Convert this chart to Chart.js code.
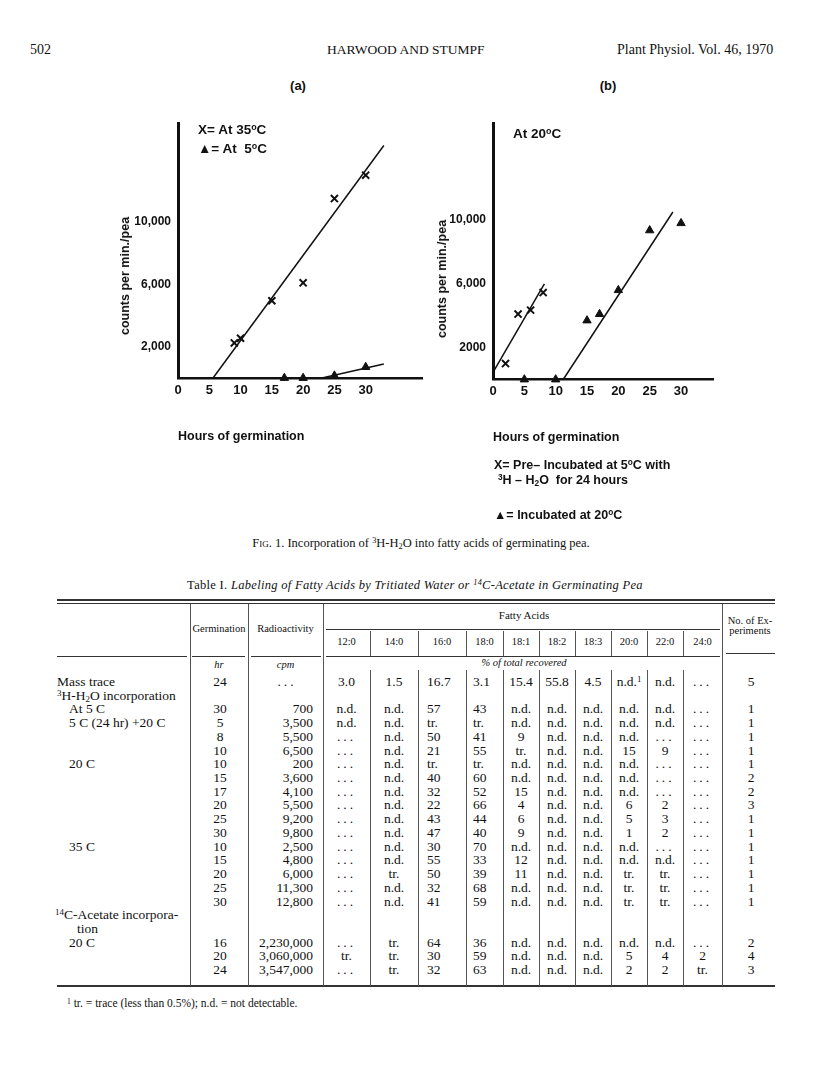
<!DOCTYPE html>
<html><head><meta charset="utf-8">
<script src="https://cdn.jsdelivr.net/npm/chart.js@4.4.0/dist/chart.umd.min.js"></script>
<style>
html,body{margin:0;padding:0;background:#fff;}
body{width:816px;height:1074px;position:relative;overflow:hidden;font-family:"Liberation Serif","Times New Roman",serif;color:#111;}
.abs{position:absolute;white-space:nowrap;}
.sans{font-family:"Liberation Sans",Arial,sans-serif;font-weight:bold;}
canvas{position:absolute;}
sup{font-size:66%;vertical-align:0.45em;line-height:0;}
sub{font-size:66%;vertical-align:-0.25em;line-height:0;}
.ytitle{transform:translate(-50%,-50%) rotate(-90deg);font-size:12.5px;}
.vl{position:absolute;width:1px;background:#555;}
.hl{position:absolute;background:#333;}
.cell{position:absolute;white-space:nowrap;line-height:14px;height:14px;font-size:13.5px;}
.hcell{position:absolute;white-space:nowrap;line-height:12px;height:12px;font-size:10.5px;text-align:center;}
</style></head><body>

<div class="abs" style="left:30px;top:42px;font-size:14px;">502</div>
<div class="abs" style="left:327px;top:42px;font-size:13.5px;">HARWOOD AND STUMPF</div>
<div class="abs" style="left:617px;top:42px;font-size:14px;">Plant Physiol. Vol. 46, 1970</div>

<div class="abs sans" style="left:278px;width:40px;text-align:center;top:78px;font-size:13px;">(a)</div>
<div class="abs sans" style="left:588px;width:40px;text-align:center;top:78px;font-size:13px;">(b)</div>

<canvas id="chartA" width="315" height="360" style="left:110px;top:100px;"></canvas>
<canvas id="chartB" width="305" height="360" style="left:425px;top:100px;"></canvas>

<div class="abs sans" style="left:198px;top:122px;font-size:13.5px;">X= At 35<sup>o</sup>C</div>
<div class="abs sans" style="left:198px;top:141px;font-size:13.5px;">▲= At&nbsp; 5<sup>o</sup>C</div>
<div class="abs sans" style="left:513px;top:126px;font-size:13.5px;">At 20<sup>o</sup>C</div>

<div class="abs sans ytitle" style="left:125px;top:276px;">counts per min./pea</div>
<div class="abs sans ytitle" style="left:442px;top:279px;">counts per min./pea</div>

<div class="abs sans" style="left:494px;top:458px;font-size:12.5px;">X= Pre– Incubated at 5<sup>o</sup>C with</div>
<div class="abs sans" style="left:498px;top:473px;font-size:12.5px;"><sup>3</sup>H – H<sub>2</sub>O&nbsp; for 24 hours</div>
<div class="abs sans" style="left:494px;top:508px;font-size:12.5px;">▲= Incubated at 20<sup>o</sup>C</div>

<div class="abs" style="left:0;width:842px;text-align:center;top:536px;font-size:12.5px;"><span style="font-variant:small-caps;">Fig.</span> 1. Incorporation of <sup>3</sup>H-H<sub>2</sub>O into fatty acids of germinating pea.</div>

<div class="abs" style="left:0;width:830px;text-align:center;top:578px;font-size:12.5px;letter-spacing:0.3px;">Table I. <i>Labeling of Fatty Acids by Tritiated Water or <sup>14</sup>C-Acetate in Germinating Pea</i></div>

<div id="table"></div>

<div class="abs" style="left:67px;top:997px;font-size:11.5px;"><sup>1</sup> tr. = trace (less than 0.5%); n.d. = not detectable.</div>

<script>
// ---------- Figure 1 data ----------
const xTickHours = [0, 5, 10, 15, 20, 25, 30];
const yTickValues = [2000, 6000, 10000];
const yTickLabelsA = ['2,000', '6,000', '10,000'];
const yTickLabelsB = ['2000', '6,000', '10,000'];

// (a) X = at 35 C
const hoursA35 = [9, 10, 15, 20, 25, 30];
const countsA35 = [2250, 2550, 4950, 6100, 11500, 13000];
// (a) triangle = at 5 C
const hoursA5 = [17, 20, 25, 30];
const countsA5 = [0, 0, 150, 700];
// (a) fitted lines (end points)
const fitA35Hours = [5.6, 32.9];
const fitA35Counts = [0, 14900];
const fitA5Hours = [23.0, 32.9];
const fitA5Counts = [0, 900];

// (b) X = pre-incubated at 5 C with 3H-H2O for 24 h
const hoursBPre = [2, 4, 6, 8];
const countsBPre = [1000, 4100, 4350, 5450];
// (b) triangle = incubated at 20 C
const hoursBInc = [5, 10, 15, 17, 20, 25, 30];
const countsBInc = [0, 0, 3700, 4100, 5600, 9350, 9800];
const fitBPreHours = [0, 8.2];
const fitBPreCounts = [450, 6000];
const fitBIncHours = [11.2, 28.7];
const fitBIncCounts = [0, 10500];

// ---------- Table I data ----------
const fattyAcids = ['12:0','14:0','16:0','18:0','18:1','18:2','18:3','20:0','22:0','24:0'];
const rowLabels = ['Mass trace','<sup>3</sup>H-H<sub>2</sub>O incorporation','At 5 C','5 C (24 hr) +20 C','','','20 C','','','','','','35 C','','','','','<sup>14</sup>C-Acetate incorpora-','tion','20 C','',''];
const germinationHr = ['24','','30','5','8','10','10','15','17','20','25','30','10','15','20','25','30','','','16','20','24'];
const radioactivityCpm = ['...','','700','3,500','5,500','6,500','200','3,600','4,100','5,500','9,200','9,800','2,500','4,800','6,000','11,300','12,800','','','2,230,000','3,060,000','3,547,000'];
const percentRecovered = [
  ['3.0','1.5','16.7','3.1','15.4','55.8','4.5','n.d.<sup>1</sup>','n.d.','...'],
  null,
  ['n.d.','n.d.','57','43','n.d.','n.d.','n.d.','n.d.','n.d.','...'],
  ['n.d.','n.d.','tr.','tr.','n.d.','n.d.','n.d.','n.d.','n.d.','...'],
  ['...','n.d.','50','41','9','n.d.','n.d.','n.d.','...','...'],
  ['...','n.d.','21','55','tr.','n.d.','n.d.','15','9','...'],
  ['...','n.d.','tr.','tr.','n.d.','n.d.','n.d.','n.d.','...','...'],
  ['...','n.d.','40','60','n.d.','n.d.','n.d.','n.d.','...','...'],
  ['...','n.d.','32','52','15','n.d.','n.d.','n.d.','...','...'],
  ['...','n.d.','22','66','4','n.d.','n.d.','6','2','...'],
  ['...','n.d.','43','44','6','n.d.','n.d.','5','3','...'],
  ['...','n.d.','47','40','9','n.d.','n.d.','1','2','...'],
  ['...','n.d.','30','70','n.d.','n.d.','n.d.','n.d.','...','...'],
  ['...','n.d.','55','33','12','n.d.','n.d.','n.d.','n.d.','...'],
  ['...','tr.','50','39','11','n.d.','n.d.','tr.','tr.','...'],
  ['...','n.d.','32','68','n.d.','n.d.','n.d.','tr.','tr.','...'],
  ['...','n.d.','41','59','n.d.','n.d.','n.d.','tr.','tr.','...'],
  null,
  null,
  ['...','tr.','64','36','n.d.','n.d.','n.d.','n.d.','n.d.','...'],
  ['tr.','tr.','30','59','n.d.','n.d.','n.d.','5','4','2'],
  ['...','tr.','32','63','n.d.','n.d.','n.d.','2','2','tr.']
];
const experimentsNo = ['5','','1','1','1','1','1','2','2','3','1','1','1','1','1','1','1','','','2','4','3'];

// ---------- charts ----------
function pts(xs, ys){ return xs.map((x,i)=>({x:x, y:ys[i]})); }
const INK = '#111';
const tickFontX = {family:'Liberation Sans', weight:'bold', size:13, lineHeight:1.2};
const tickFontY = {family:'Liberation Sans', weight:'bold', size:12, lineHeight:1.2};
const titleFont = {family:'Liberation Sans', weight:'bold', size:12.5, lineHeight:1.2};

function makeChart(id, cfg){
  const datasets = [];
  cfg.lines.forEach(l => datasets.push({data:pts(l[0], l[1]), showLine:true, borderColor:INK, borderWidth:1.5, pointRadius:0, clip:false}));
  cfg.crosses.forEach(c => datasets.push({data:pts(c[0], c[1]), pointStyle:'crossRot', pointRadius:5, borderColor:INK, borderWidth:2, clip:false}));
  cfg.triangles.forEach(t => datasets.push({data:pts(t[0], t[1]), pointStyle:'triangle', pointRadius:4.8, backgroundColor:INK, borderColor:INK, borderWidth:1, clip:false}));
  return new Chart(document.getElementById(id), {
    type:'scatter',
    data:{datasets:datasets},
    options:{
      responsive:false, animation:false, events:[],
      layout:{autoPadding:false, padding:{top:23, right:cfg.padRight, left:0, bottom:0}},
      plugins:{legend:{display:false}, tooltip:{enabled:false}},
      scales:{
        x:{type:'linear', min:0, max:cfg.xMax,
           grid:{display:false, drawTicks:false},
           border:{display:true, color:INK, width:2.5},
           afterBuildTicks:s=>{ s.ticks = xTickHours.map(v=>({value:v})); },
           afterFit:s=>{ s.height = cfg.xHeight; },
           ticks:{color:INK, font:tickFontX, padding:cfg.xPad, maxRotation:0, autoSkip:false, callback:v=>String(v)},
           title:{display:true, text:'Hours of germination', align:'start', color:INK, font:titleFont, padding:{top:0, bottom:cfg.titlePad}}
        },
        y:{type:'linear', min:0, max:cfg.yMax,
           grid:{display:false, drawTicks:false},
           border:{display:true, color:INK, width:3},
           afterBuildTicks:s=>{ s.ticks = yTickValues.map(v=>({value:v})); },
           afterFit:s=>{ s.width = cfg.yWidth; },
           ticks:{color:INK, font:tickFontY, padding:7, autoSkip:false, callback:(v,i)=>cfg.yLabels[i]}
        }
      }
    }
  });
}

makeChart('chartA', {
  lines:[[fitA35Hours, fitA35Counts],[fitA5Hours, fitA5Counts]],
  crosses:[[hoursA35, countsA35]],
  triangles:[[hoursA5, countsA5]],
  xMax:39.0, yMax:16346, padRight:3, xHeight:82, yWidth:68, xPad:4.2, titlePad:15.5, yLabels:yTickLabelsA
});
makeChart('chartB', {
  lines:[[fitBPreHours, fitBPreCounts],[fitBIncHours, fitBIncCounts]],
  crosses:[[hoursBPre, countsBPre]],
  triangles:[[hoursBInc, countsBInc]],
  xMax:35.1, yMax:16082, padRight:17, xHeight:80.5, yWidth:68, xPad:4.4, titlePad:14.5, yLabels:yTickLabelsB
});

// ---------- table rendering ----------
(function(){
  const T = document.getElementById('table');
  const edges = [57,190,248,323,370,418,466,503,539,575,611,647,683,722,775];
  function add(html, cls, style){ const d=document.createElement('div'); d.className=cls; d.setAttribute('style', style); d.innerHTML=html; T.appendChild(d); return d; }
  function hl(x1,x2,y,h){ add('', 'hl', `left:${x1}px;width:${x2-x1}px;top:${y}px;height:${h}px;`); }
  function vl(x,y1,y2){ add('', 'vl', `left:${x}px;top:${y1}px;height:${y2-y1}px;`); }
  const tableBottom = 986;
  hl(57,775,599,2); hl(57,775,603,1);
  hl(326,720,629,1);
  hl(57,187,656,1); hl(192,245,656,1); hl(251,321,656,1); hl(326,720,656,1); hl(726,775,653,1);
  hl(57,775,985,2);
  [190,248,323,722].forEach(x=>vl(x,604,tableBottom));
  [370,418,466,503,539,575,611,647,683].forEach(x=>{ vl(x,631,656); vl(x,670,tableBottom); });

  // header
  add('Fatty Acids','hcell',`left:326px;width:396px;top:609px;font-size:11px;`);
  add('Germination','hcell',`left:190px;width:58px;top:623px;`);
  add('Radioactivity','hcell',`left:248px;width:75px;top:623px;`);
  add('No. of Ex-','hcell',`left:722px;width:56px;top:615px;`);
  add('periments','hcell',`left:722px;width:56px;top:625px;`);
  fattyAcids.forEach((fa,j)=>add(fa,'hcell',`left:${edges[j+3]}px;width:${edges[j+4]-edges[j+3]}px;top:636px;`));
  add('<i>hr</i>','hcell',`left:190px;width:58px;top:659px;`);
  add('<i>cpm</i>','hcell',`left:248px;width:75px;top:659px;`);
  add('<i>% of total recovered</i>','hcell',`left:326px;width:396px;top:657px;`);

  const rowY = i => 682 + 13.72*i;
  const indent = {2:12,3:12,6:12,12:12,17:-2,18:20,19:12};
  function cellHtml(s){ return s==='...' ? '<span style="letter-spacing:3px;">...</span>' : s; }
  rowLabels.forEach((lab,i)=>{
    const y = rowY(i)-7;
    if(lab) add(lab,'cell',`left:${57+(indent[i]||0)}px;top:${y}px;`);
    if(germinationHr[i]) add(germinationHr[i],'cell',`left:190px;width:60px;text-align:center;top:${y}px;`);
    if(radioactivityCpm[i]) {
      if(radioactivityCpm[i]==='...') add(cellHtml('...'),'cell',`left:248px;width:78px;text-align:center;top:${y}px;`);
      else add(radioactivityCpm[i],'cell',`left:248px;width:65px;text-align:right;top:${y}px;`);
    }
    const p = percentRecovered[i];
    if(p){
      p.forEach((v,j)=>{
        const l = edges[j+3], w = edges[j+4]-edges[j+3];
        let st;
        if(j===2 && v!=='...') st = `left:${l+9}px;top:${y}px;`;
        else if(j===3 && v!=='...') st = `left:${l+7}px;top:${y}px;`;
        else st = `left:${l}px;width:${w}px;text-align:center;top:${y}px;`;
        add(cellHtml(v),'cell',st);
      });
    }
    if(experimentsNo[i]) add(experimentsNo[i],'cell',`left:724px;width:54px;text-align:center;top:${y}px;`);
  });
})();
</script>
</body></html>
